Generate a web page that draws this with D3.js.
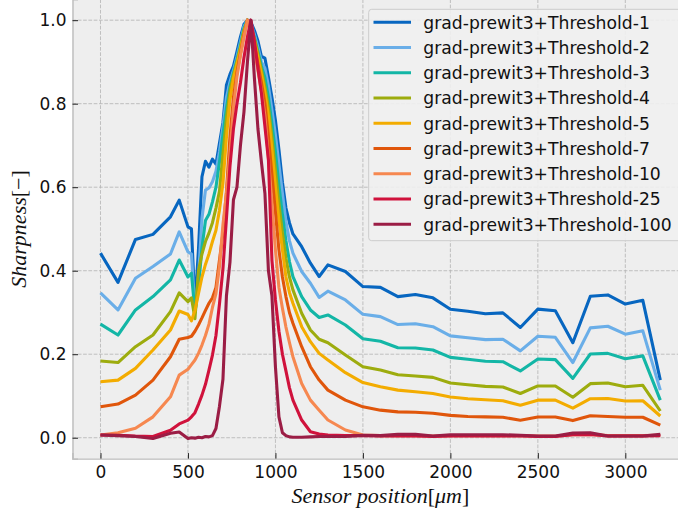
<!DOCTYPE html>
<html>
<head>
<meta charset="utf-8">
<script src="https://cdn.jsdelivr.net/npm/d3@7"></script>
<style>
  html, body { margin: 0; padding: 0; background: #ffffff; }
  svg { display: block; }
</style>
</head>
<body>
<script>
// Sensor positions [µm]: coarse at the edges, finer across the peak
const sensorPos = [0, 100, 200, 300, 400, 450,
  500, 520, 540, 560, 580, 600, 620, 640, 660, 680,
  700, 720, 740, 760, 780, 800, 820, 840, 860, 880,
  900, 920, 940, 960, 980, 1000, 1020, 1040, 1060, 1080,
  1100, 1150, 1200, 1250, 1300,
  1400, 1500, 1600, 1700, 1800, 1900, 2000, 2100, 2200, 2300,
  2400, 2500, 2600, 2700, 2800, 2900, 3000, 3100, 3200];

// Normalised sharpness for each threshold
const thr1 = [0.442, 0.372, 0.475, 0.487, 0.529, 0.569,
  0.505, 0.500, 0.315, 0.450, 0.625, 0.662, 0.648, 0.667, 0.655, 0.705,
  0.755, 0.845, 0.870, 0.890, 0.925, 0.960, 0.990, 1.000, 0.995, 0.975,
  0.950, 0.913, 0.909, 0.863, 0.815, 0.760, 0.690, 0.612, 0.550, 0.515,
  0.488, 0.4575, 0.418, 0.386, 0.414,
  0.398, 0.362, 0.360, 0.338, 0.343, 0.335, 0.3075, 0.303, 0.297, 0.299,
  0.264, 0.308, 0.304, 0.2275, 0.339, 0.342, 0.320, 0.329, 0.138];
const thr2 = [0.347, 0.306, 0.382, 0.410, 0.440, 0.493,
  0.445, 0.440, 0.300, 0.385, 0.525, 0.593, 0.598, 0.613, 0.638, 0.685,
  0.745, 0.815, 0.852, 0.880, 0.912, 0.948, 0.985, 1.000, 0.990, 0.965,
  0.935, 0.900, 0.885, 0.842, 0.785, 0.725, 0.655, 0.585, 0.518, 0.472,
  0.442, 0.398, 0.370, 0.336, 0.351,
  0.330, 0.2955, 0.290, 0.271, 0.273, 0.266, 0.244, 0.2395, 0.235, 0.236,
  0.208, 0.243, 0.2405, 0.180, 0.263, 0.267, 0.248, 0.256, 0.114];
const thr3 = [0.272, 0.246, 0.306, 0.338, 0.378, 0.4256,
  0.385, 0.394, 0.300, 0.360, 0.455, 0.520, 0.535, 0.565, 0.600, 0.660,
  0.725, 0.790, 0.840, 0.873, 0.905, 0.940, 0.980, 1.000, 0.988, 0.958,
  0.925, 0.890, 0.862, 0.815, 0.752, 0.685, 0.605, 0.535, 0.472, 0.422,
  0.386, 0.338, 0.306, 0.288, 0.294,
  0.270, 0.237, 0.231, 0.2155, 0.215, 0.210, 0.1925, 0.188, 0.183, 0.182,
  0.160, 0.1885, 0.187, 0.142, 0.2005, 0.202, 0.189, 0.196, 0.090];
const thr4 = [0.1837, 0.180, 0.218, 0.246, 0.302, 0.347,
  0.326, 0.335, 0.285, 0.400, 0.440, 0.470, 0.490, 0.515, 0.550, 0.590,
  0.680, 0.765, 0.830, 0.868, 0.900, 0.935, 0.975, 1.000, 0.985, 0.955,
  0.918, 0.880, 0.840, 0.790, 0.720, 0.640, 0.560, 0.490, 0.430, 0.385,
  0.354, 0.298, 0.258, 0.2357, 0.2275,
  0.198, 0.170, 0.162, 0.151, 0.148, 0.1445, 0.131, 0.127, 0.123, 0.1215,
  0.106, 0.124, 0.124, 0.097, 0.1295, 0.131, 0.122, 0.1255, 0.064];
const thr5 = [0.134, 0.138, 0.166, 0.210, 0.258, 0.3035,
  0.295, 0.280, 0.305, 0.345, 0.385, 0.415, 0.440, 0.470, 0.497, 0.545,
  0.610, 0.720, 0.810, 0.860, 0.895, 0.930, 0.970, 1.000, 0.985, 0.950,
  0.910, 0.870, 0.825, 0.770, 0.690, 0.600, 0.520, 0.450, 0.385, 0.348,
  0.322, 0.266, 0.230, 0.202, 0.186,
  0.1557, 0.132, 0.122, 0.114, 0.110, 0.106, 0.0975, 0.0935, 0.091, 0.0885,
  0.078, 0.090, 0.090, 0.071, 0.0935, 0.094, 0.088, 0.0885, 0.052];
const thr7 = [0.074, 0.0807, 0.102, 0.138, 0.194, 0.2357,
  0.240, 0.243, 0.255, 0.270, 0.287, 0.305, 0.322, 0.335, 0.360, 0.425,
  0.490, 0.590, 0.720, 0.815, 0.875, 0.920, 0.965, 1.000, 0.980, 0.940,
  0.895, 0.850, 0.800, 0.720, 0.630, 0.540, 0.450, 0.385, 0.338, 0.300,
  0.274, 0.218, 0.170, 0.138, 0.114,
  0.090, 0.074, 0.066, 0.062, 0.061, 0.0585, 0.0535, 0.051, 0.050, 0.049,
  0.042, 0.0495, 0.0495, 0.041, 0.0527, 0.051, 0.049, 0.049, 0.030];
const thr10 = [0.0065, 0.012, 0.0225, 0.050, 0.098, 0.150,
  0.164, 0.175, 0.186, 0.202, 0.222, 0.245, 0.272, 0.312, 0.345, 0.410,
  0.510, 0.585, 0.680, 0.790, 0.865, 0.915, 0.960, 1.000, 0.975, 0.930,
  0.880, 0.830, 0.770, 0.670, 0.560, 0.450, 0.360, 0.310, 0.265, 0.228,
  0.194, 0.130, 0.090, 0.066, 0.0424,
  0.0185, 0.0065, 0.005, 0.005, 0.005, 0.004, 0.005, 0.005, 0.005, 0.005,
  0.005, 0.004, 0.004, 0.007, 0.008, 0.005, 0.005, 0.005, 0.006];
const thr25 = [0.0065, 0.006, 0.004, 0.003, 0.018, 0.033,
  0.042, 0.050, 0.060, 0.080, 0.102, 0.128, 0.162, 0.198, 0.245, 0.320,
  0.405, 0.525, 0.650, 0.740, 0.800, 0.850, 0.910, 0.960, 1.000, 0.950,
  0.885, 0.825, 0.745, 0.665, 0.425, 0.330, 0.255, 0.200, 0.160, 0.120,
  0.090, 0.0424, 0.0144, 0.009, 0.0065,
  0.005, 0.005, 0.004, 0.004, 0.004, 0.003, 0.004, 0.004, 0.004, 0.004,
  0.004, 0.003, 0.003, 0.007, 0.008, 0.004, 0.004, 0.004, 0.005];
const thr100 = [0.0065, 0.005, 0.003, -0.002, 0.0105, 0.0137,
  -0.002, 0.000, -0.001, 0.001, 0.000, 0.003, 0.002, 0.005, 0.022, 0.075,
  0.140, 0.340, 0.420, 0.570, 0.600, 0.700, 0.780, 0.900, 1.000, 0.860,
  0.740, 0.660, 0.585, 0.400, 0.340, 0.170, 0.050, 0.012, 0.005, 0.002,
  0.001, 0.001, 0.002, 0.003, 0.003,
  0.003, 0.006, 0.005, 0.008, 0.008, 0.004, 0.007, 0.007, 0.007, 0.007,
  0.006, 0.004, 0.004, 0.011, 0.012, 0.004, 0.004, 0.004, 0.008];

const seriesNames = ["grad-prewit3+Threshold-1", "grad-prewit3+Threshold-2",
  "grad-prewit3+Threshold-3", "grad-prewit3+Threshold-4", "grad-prewit3+Threshold-5",
  "grad-prewit3+Threshold-7", "grad-prewit3+Threshold-10", "grad-prewit3+Threshold-25",
  "grad-prewit3+Threshold-100"];
const seriesValues = [thr1, thr2, thr3, thr4, thr5, thr7, thr10, thr25, thr100];
const seriesColors = ["#0766c0", "#6aaee8", "#13b6a6", "#9dac0e", "#f3ac00",
  "#e0560b", "#f68850", "#d0123c", "#9b1d45"];

const xTicks = [0, 500, 1000, 1500, 2000, 2500, 3000];
const yTicks = [0.0, 0.2, 0.4, 0.6, 0.8, 1.0];

const W = 678, H = 516;
const plot = { left: 72.5, right: 688.3, top: -0.7, bottom: 458.6 };

const svg = d3.select("body").append("svg")
  .attr("width", W).attr("height", H)
  .attr("viewBox", `0 0 ${W} ${H}`);

const x = d3.scaleLinear().domain([-160, 3360]).range([plot.left, plot.right]);
const y = d3.scaleLinear().domain([-0.05, 1.05]).range([plot.bottom, plot.top]);

// axes background
svg.append("rect")
  .attr("x", plot.left).attr("y", plot.top)
  .attr("width", plot.right - plot.left).attr("height", plot.bottom - plot.top)
  .attr("fill", "#eeeeee");

// dashed grid
const grid = svg.append("g").attr("stroke", "#b2b2b2").attr("stroke-width", 0.8)
  .attr("stroke-dasharray", "3.7,1.6");
grid.selectAll("line.vx").data(xTicks).join("line")
  .attr("x1", d => x(d)).attr("x2", d => x(d))
  .attr("y1", plot.top).attr("y2", plot.bottom);
grid.selectAll("line.hy").data(yTicks).join("line")
  .attr("x1", plot.left).attr("x2", plot.right)
  .attr("y1", d => y(d)).attr("y2", d => y(d));

// data lines
svg.append("clipPath").attr("id", "plotclip").append("rect")
  .attr("x", plot.left).attr("y", plot.top)
  .attr("width", plot.right - plot.left).attr("height", plot.bottom - plot.top);

const line = d3.line().x((d, i) => x(sensorPos[i])).y(d => y(d));
svg.append("g").attr("clip-path", "url(#plotclip)")
  .selectAll("path").data(seriesValues).join("path")
  .attr("d", d => line(d))
  .attr("fill", "none")
  .attr("stroke", (d, i) => seriesColors[i])
  .attr("stroke-width", 3.1)
  .attr("stroke-linejoin", "round")
  .attr("stroke-linecap", "butt");

// axes with inward ticks
const axisFont = "'DejaVu Sans', sans-serif";
const gx = svg.append("g").attr("transform", `translate(0,${plot.bottom})`)
  .call(d3.axisBottom(x).tickValues(xTicks).tickFormat(d3.format("d"))
    .tickSize(-5.5).tickPadding(7));
const gy = svg.append("g").attr("transform", `translate(${plot.left},0)`)
  .call(d3.axisLeft(y).tickValues(yTicks).tickFormat(d3.format(".1f"))
    .tickSize(-5.5).tickPadding(6));
[gx, gy].forEach(g => {
  g.select(".domain").attr("stroke", "#bcbcbc").attr("stroke-width", 1.4);
  g.selectAll(".tick line").attr("stroke", "#222").attr("stroke-width", 1);
  g.selectAll(".tick text").attr("fill", "#111")
    .style("font-family", axisFont).style("font-size", "17px");
});

// axis titles (math-style italics with upright brackets)
const serif = "'Liberation Serif', 'DejaVu Serif', serif";
const xl = svg.append("text")
  .attr("x", (plot.left + plot.right) / 2).attr("y", 503)
  .attr("text-anchor", "middle")
  .style("font-family", serif).style("font-size", "22px").attr("fill", "#111");
xl.append("tspan").style("font-style", "italic").text("Sensor position");
xl.append("tspan").text("[");
xl.append("tspan").style("font-style", "italic").text("μm");
xl.append("tspan").text("]");

const yl = svg.append("text")
  .attr("transform", `translate(26,${(plot.top + plot.bottom) / 2}) rotate(-90)`)
  .attr("text-anchor", "middle")
  .style("font-family", serif).style("font-size", "22px").attr("fill", "#111");
yl.append("tspan").style("font-style", "italic").text("Sharpness");
yl.append("tspan").text("[−]");

// legend
const leg = svg.append("g");
leg.append("rect")
  .attr("x", 368.7).attr("y", 9.3).attr("width", 330).attr("height", 231.4)
  .attr("rx", 3).attr("fill", "#efefef").attr("fill-opacity", 0.9)
  .attr("stroke", "#cccccc").attr("stroke-width", 1);
const items = leg.selectAll("g.item").data(seriesNames).join("g")
  .attr("transform", (d, i) => `translate(0,${22.3 + i * 25.25})`);
items.append("line")
  .attr("x1", 373.5).attr("x2", 411)
  .attr("stroke", (d, i) => seriesColors[i]).attr("stroke-width", 3.1);
items.append("text")
  .attr("x", 423.3).attr("dy", "0.36em")
  .style("font-family", axisFont).style("font-size", "17.2px").attr("fill", "#111")
  .text(d => d);
</script>
</body>
</html>
